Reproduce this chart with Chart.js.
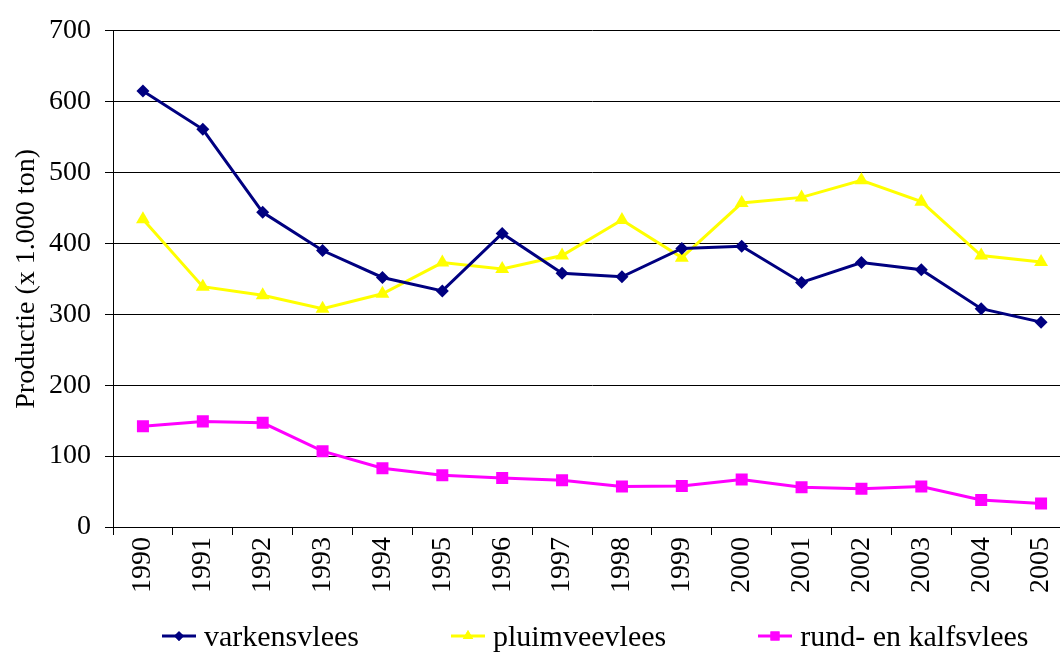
<!DOCTYPE html>
<html>
<head>
<meta charset="utf-8">
<script src="https://cdn.jsdelivr.net/npm/chart.js@4/dist/chart.umd.min.js"></script>
<style>
  body { margin: 0; background: #fff; overflow: hidden; width: 1060px; height: 660px; }
  #wrap { position: relative; width: 1080px; height: 660px; }
  #legend { position: absolute; top: 619px; left: 162px; display: flex; align-items: center;
    font-family: 'Liberation Serif', 'Times New Roman', serif; font-size: 30px; color: #000; }
  .item { display: flex; align-items: center; }
  .item canvas { margin-right: 8px; }
</style>
</head>
<body>
<div id="wrap">
  <canvas id="grafiek" width="1080" height="660"></canvas>
  <div id="legend"></div>
</div>
<script>
// jaren en productie (x 1.000 ton)
const jaren = ['1990','1991','1992','1993','1994','1995','1996','1997','1998','1999','2000','2001','2002','2003','2004','2005']
const varkensvlees = [615, 561, 444, 390, 352, 333, 414, 358, 353, 393, 396, 345, 373, 363, 308, 289]
const pluimveevlees = [434, 339, 327, 308, 329, 373, 364, 383, 433, 380, 457, 465, 489, 459, 383, 374]
const rundvlees = [142, 149, 147, 107, 83, 73, 69, 66, 57, 58, 67, 56, 54, 57, 38, 33]
const yTicks = [0, 100, 200, 300, 400, 500, 600, 700]

const series = [
  { label: 'varkensvlees', data: varkensvlees, kleur: '#000080', vorm: 'rectRot', r: 6.5 },
  { label: 'pluimveevlees', data: pluimveevlees, kleur: '#FFFF00', vorm: 'triangle', r: 8 },
  { label: 'rund- en kalfsvlees', data: rundvlees, kleur: '#FF00FF', vorm: 'rect', r: 8.5 }
]

const font = 'Liberation Serif'

new Chart(document.getElementById('grafiek'), {
  type: 'line',
  data: {
    labels: jaren,
    datasets: series.map(s => ({
      label: s.label,
      data: s.data,
      borderColor: s.kleur,
      backgroundColor: s.kleur,
      borderWidth: 3,
      pointStyle: s.vorm,
      pointRadius: s.r,
      pointBorderWidth: 0,
      pointBackgroundColor: s.kleur,
      tension: 0
    }))
  },
  options: {
    responsive: false,
    animation: false,
    layout: { padding: { top: 29, right: 9, left: 0, bottom: 0 } },
    plugins: { legend: { display: false }, tooltip: { enabled: false } },
    scales: {
      x: {
        offset: true,
        grid: { offset: true, drawOnChartArea: false, tickLength: 8, color: '#000' },
        border: { color: '#000' },
        ticks: { color: '#000', font: { family: font, size: 28 }, minRotation: 90, maxRotation: 90, padding: 2 },
        afterFit: sc => { sc.height = 133 }
      },
      y: {
        min: 0, max: 700,
        afterBuildTicks: sc => { sc.ticks = yTicks.map(v => ({ value: v })) },
        grid: { color: '#000', tickLength: 8 },
        border: { color: '#000' },
        ticks: { color: '#000', font: { family: font, size: 28 }, padding: 14 },
        title: { display: true, text: 'Productie (x 1.000 ton)', color: '#000', font: { family: font, size: 28 }, padding: { top: 10, bottom: 0 } },
        afterFit: sc => { sc.width = 113 }
      }
    }
  }
})

// legenda als html
const legend = document.getElementById('legend')
series.forEach((s, i) => {
  const item = document.createElement('div')
  item.className = 'item'
  if (i > 0) item.style.marginLeft = '92px'
  const c = document.createElement('canvas')
  c.width = 34; c.height = 16
  const ctx = c.getContext('2d')
  ctx.strokeStyle = s.kleur; ctx.lineWidth = 3
  ctx.beginPath(); ctx.moveTo(0, 8); ctx.lineTo(34, 8); ctx.stroke()
  ctx.fillStyle = s.kleur
  Chart.helpers.drawPoint(ctx, { pointStyle: s.vorm, radius: s.r * 0.75, borderWidth: 0 }, 17, 8)
  ctx.fill()
  item.appendChild(c)
  const t = document.createElement('span')
  t.textContent = s.label
  item.appendChild(t)
  legend.appendChild(item)
})
</script>
</body>
</html>
